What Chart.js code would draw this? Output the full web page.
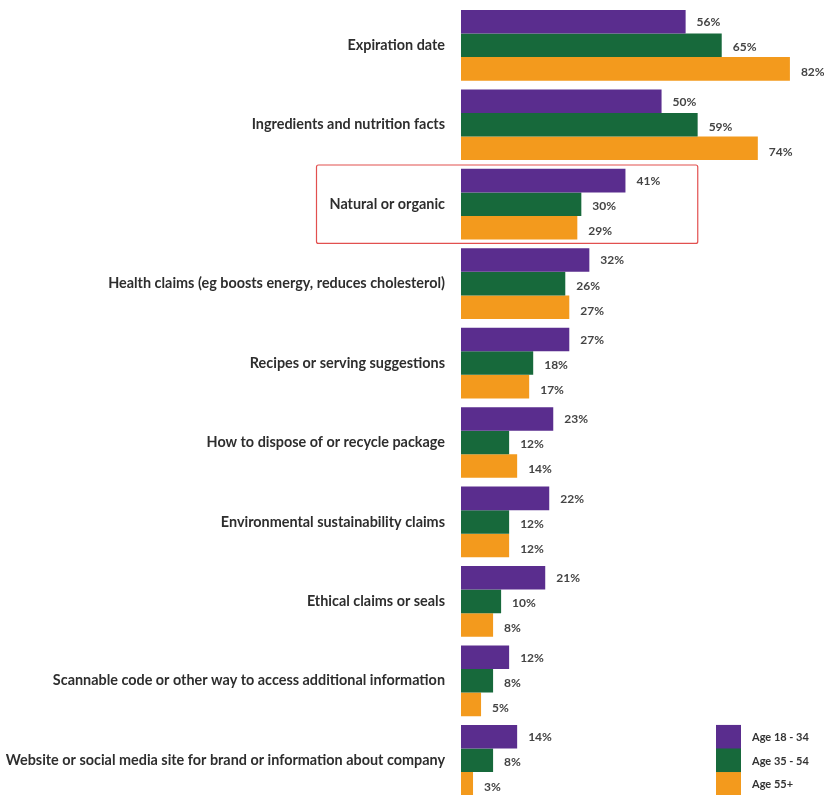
<!DOCTYPE html>
<html><head><meta charset="utf-8">
<script src="https://cdn.jsdelivr.net/npm/chart.js@4"></script>
<style>html,body{margin:0;padding:0;background:#fff;overflow:hidden;height:795px}#wrap{width:824px;height:800px;position:relative}</style>
</head><body><div id="wrap"><canvas id="c"></canvas></div>
<script>
const categories = [
  "Expiration date",
  "Ingredients and nutrition facts",
  "Natural or organic",
  "Health claims (eg boosts energy, reduces cholesterol)",
  "Recipes or serving suggestions",
  "How to dispose of or recycle package",
  "Environmental sustainability claims",
  "Ethical claims or seals",
  "Scannable code or other way to access additional information",
  "Website or social media site for brand or information about company"
];
const seriesNames = ["Age 18 - 34", "Age 35 - 54", "Age 55+"];
const age18to34 = [56, 50, 41, 32, 27, 23, 22, 21, 12, 14];
const age35to54 = [65, 59, 30, 26, 18, 12, 12, 10, 8, 8];
const age55plus = [82, 74, 29, 27, 17, 14, 12, 8, 5, 3];
const colors = ["#5a2d8e", "#17693b", "#f39a1d"];
const highlightIndex = 2;

const LEFT = 461;
const FONT = "Lato, Roboto, 'Liberation Sans', Arial, sans-serif";

const valueLabels = {
  id: 'valueLabels',
  afterDatasetsDraw(chart) {
    const ctx = chart.ctx;
    ctx.save();
    ctx.font = "bold 12px " + FONT;
    ctx.fillStyle = "#444";
    ctx.textBaseline = "middle";
    chart.data.datasets.forEach((ds, di) => {
      chart.getDatasetMeta(di).data.forEach((bar, i) => {
        ctx.fillText(ds.data[i] + "%", bar.x + 11, bar.y + 0.5 + di * 1.5);
      });
    });
    ctx.restore();
  }
};

const highlightBox = {
  id: 'highlightBox',
  afterDraw(chart) {
    const y = chart.scales.y, x = chart.scales.x;
    const c = y.getPixelForValue(highlightIndex);
    const half = (y.getPixelForValue(1) - y.getPixelForValue(0)) / 2;
    const ctx = chart.ctx;
    ctx.save();
    ctx.strokeStyle = "#e2504f";
    ctx.lineWidth = 1.2;
    ctx.beginPath();
    ctx.roundRect(316.5, c - half + 0.5, x.getPixelForValue(58.9) - 316, 2 * half - 1, 2);
    ctx.stroke();
    ctx.restore();
  }
};

const customLegend = {
  id: 'customLegend',
  afterDraw(chart) {
    const ctx = chart.ctx;
    const meta = chart.getDatasetMeta(0).data[categories.length - 1];
    const top = meta.y - meta.height / 2;
    const h = meta.height;
    ctx.save();
    ctx.font = "bold 11px " + FONT;
    ctx.textBaseline = "middle";
    seriesNames.forEach((n, i) => {
      ctx.fillStyle = colors[i];
      ctx.fillRect(716, top + i * h, 25, h + 0.5);
      ctx.fillStyle = "#333";
      ctx.fillText(n, 752, top + i * h + h / 2 + 1);
    });
    ctx.restore();
  }
};

new Chart(document.getElementById('c'), {
  type: 'bar',
  data: {
    labels: categories,
    datasets: [
      { label: seriesNames[0], data: age18to34, backgroundColor: colors[0] },
      { label: seriesNames[1], data: age35to54, backgroundColor: colors[1] },
      { label: seriesNames[2], data: age55plus, backgroundColor: colors[2] }
    ]
  },
  options: {
    indexAxis: 'y',
    responsive: true,
    maintainAspectRatio: false,
    animation: false,
    layout: { padding: { top: 5.6, bottom: 0, left: 0, right: 2 } },
    datasets: { bar: { barPercentage: 1.0, categoryPercentage: 0.89 } },
    plugins: { legend: { display: false }, tooltip: { enabled: false } },
    scales: {
      x: { display: false, min: 0, max: 90 },
      y: {
        grid: { display: false, drawTicks: false },
        border: { display: false },
        ticks: { color: "#2e2e2e", padding: 16, font: { family: FONT, size: 14.4, weight: 'bold' } },
        afterFit(scale) { scale.width = LEFT; scale.paddingTop = 0; scale.paddingBottom = 0; }
      }
    }
  },
  plugins: [valueLabels, highlightBox, customLegend]
});
</script></body></html>
